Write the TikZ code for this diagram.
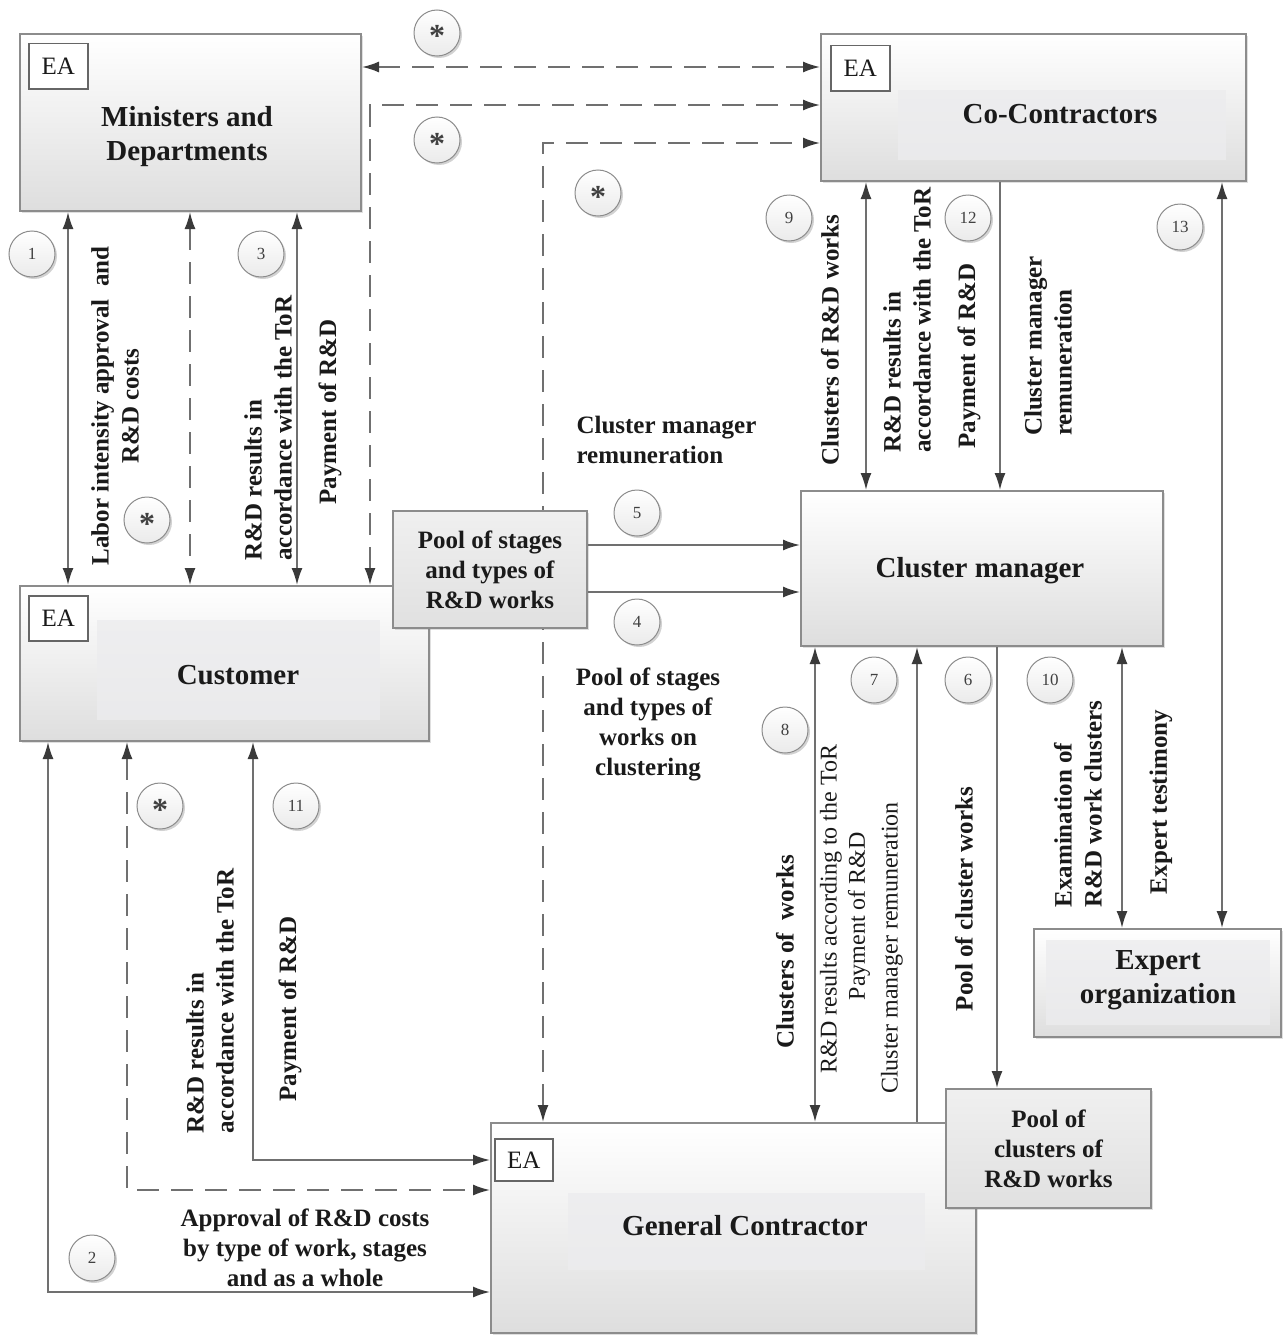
\documentclass[tikz,border=0pt]{standalone}
\usepackage{fontspec}
\setmainfont{Liberation Serif}
\usetikzlibrary{arrows.meta,shadows}
\pgfdeclarelayer{bg}
\pgfsetlayers{bg,main}
\definecolor{linec}{HTML}{707070}
\definecolor{tipc}{HTML}{3A3A3A}
\definecolor{boxc}{HTML}{8C8C8C}
\definecolor{txtc}{HTML}{1A1A1A}
\definecolor{innerc}{HTML}{ECECEE}
\tikzset{
  box/.style={draw=boxc, line width=2pt, top color=white, bottom color=black!13,
    anchor=north west, inner sep=0pt,
    drop shadow={shadow xshift=2pt,shadow yshift=-2pt,opacity=0.25}},
  pool/.style={box, top color=black!6, bottom color=black!12, align=center,
    font=\fontsize{25}{30}\selectfont\bfseries, text=txtc},
  inner/.style={fill=innerc, opacity=0.8},
  ea/.style={draw=black!60, line width=1.5pt, fill=white, minimum width=59pt,
    minimum height=45pt, anchor=north west, inner sep=0pt,
    font=\fontsize{25}{25}\selectfont, text=txtc},
  title/.style={font=\fontsize{29}{34}\selectfont\bfseries, align=center, text=txtc},
  lab/.style={font=\fontsize{25}{30}\selectfont\bfseries, text=txtc},
  vlab/.style={lab, rotate=90},
  rlab/.style={font=\fontsize{24}{28}\selectfont, text=txtc, rotate=90},
  num/.style={circle, draw=black!45, line width=1pt, top color=white,
    bottom color=black!8, minimum size=46pt, inner sep=0pt,
    font=\fontsize{17}{17}\selectfont, text=black!75,
    drop shadow={shadow xshift=2pt,shadow yshift=-2pt,opacity=0.35}},
  star/.style={num, font=\fontsize{32}{32}\selectfont\bfseries, text height=0pt, text depth=0pt},
  sol/.style={draw=linec, line width=1.8pt, >={Latex[length=17pt,width=11pt,color=tipc]}},
  dsh/.style={sol, dash pattern=on 22pt off 12pt}
}
\begin{document}
\begin{tikzpicture}[x=1pt,y=-1pt]
\useasboundingbox (0,0) rectangle (1282,1338);
\begin{pgfonlayer}{bg}\fill[white] (0,0) rectangle (1282,1338);\end{pgfonlayer}

% ---------- boxes ----------
\node[box, minimum width=341pt, minimum height=177pt] (M) at (19,33) {};
\node[box, minimum width=425pt, minimum height=147pt] (CoC) at (820,33) {};
\fill[inner] (898,90) rectangle (1226,160);
\node[box, minimum width=409pt, minimum height=155pt] (Cu) at (19,585) {};
\fill[inner] (97,620) rectangle (380,720);
\node[pool, minimum width=194pt, minimum height=117pt] (P1) at (392,510) {Pool of stages\\and types of\\R\&D works};
\node[box, minimum width=362pt, minimum height=155pt] (CM) at (800,490) {};
\node[box, minimum width=247pt, minimum height=108pt] (EO) at (1033,928) {};
\fill[inner] (1046,940) rectangle (1270,1025);
\node[box, minimum width=485pt, minimum height=210pt] (GC) at (490,1122) {};
\fill[inner] (568,1193) rectangle (925,1270);
\node[pool, minimum width=205pt, minimum height=119pt] (P2) at (945,1088) {Pool of\\clusters of\\R\&D works};

\node[ea] (eaM) at (28,43) {EA};
\node[ea] (eaC) at (830,45) {EA};
\node[ea] (eaCu) at (28,595) {EA};
\node[ea, minimum width=58pt, minimum height=42pt] (eaG) at (494,1138) {EA};

\node[title] (Mt) at (187,137) {Ministers and\\Departments};
\node[title] (Ct) at (1060,114) {Co-Contractors};
\node[title] (Cut) at (238,675) {Customer};
\node[title] (CMt) at (980,571) {Cluster manager};
\node[title] (GCt) at (745,1226) {General Contractor};
\node[title] (EOt) at (1158,980) {Expert\\organization};

% ---------- helper coordinates ----------
\coordinate (x68) at (68,0);
\coordinate (x190) at (190,0);
\coordinate (x297) at (297,0);
\coordinate (k1) at (370,105);
\coordinate (y67) at (0,67);
\coordinate (k3) at (543,143);
\coordinate (y545) at (0,545);
\coordinate (y592) at (0,592);
\coordinate (x866) at (866,0);
\coordinate (x1000) at (1000,0);
\coordinate (x1222) at (1222,0);
\coordinate (x1122) at (1122,0);
\coordinate (x997) at (997,0);
\coordinate (x917) at (917,0);
\coordinate (x815) at (815,0);
\coordinate (k2) at (48,1292);
\coordinate (k4) at (127,1190);
\coordinate (k5) at (253,1160);

% ---------- connectors ----------
\begin{pgfonlayer}{bg}
\draw[dsh,<->] (GC.north -| k3) |- (CoC.west |- k3);
\end{pgfonlayer}
\draw[sol,<->] (M.south -| x68) -- (Cu.north -| x68);
\draw[dsh,<->] (M.south -| x190) -- (Cu.north -| x190);
\draw[sol,<->] (M.south -| x297) -- (Cu.north -| x297);
\draw[dsh,<->] (Cu.north -| k1) |- (CoC.west |- k1);
\draw[dsh,<->] (M.east |- y67) -- (CoC.west |- y67);
\draw[sol,->] (P1.east |- y545) -- (CM.west |- y545);
\draw[sol,->] (P1.east |- y592) -- (CM.west |- y592);
\draw[sol,<->] (CoC.south -| x866) -- (CM.north -| x866);
\draw[sol,->] (CoC.south -| x1000) -- (CM.north -| x1000);
\draw[sol,<->] (CoC.south -| x1222) -- (EO.north -| x1222);
\draw[sol,<->] (CM.south -| x1122) -- (EO.north -| x1122);
\draw[sol,->] (CM.south -| x997) -- (P2.north -| x997);
\draw[sol,->] (GC.north -| x917) -- (CM.south -| x917);
\draw[sol,<->] (GC.north -| x815) -- (CM.south -| x815);
\draw[sol,<->] (Cu.south -| k2) |- (GC.west |- k2);
\draw[dsh,<->] (Cu.south -| k4) |- (GC.west |- k4);
\draw[sol,<->] (Cu.south -| k5) |- (GC.west |- k5);

% ---------- circles ----------
\node[star] (s1) at (437,33) {\raisebox{-14pt}{*}};
\node[star] (s2) at (437,140) {\raisebox{-14pt}{*}};
\node[star] (s3) at (598,193) {\raisebox{-14pt}{*}};
\node[star] (s4) at (147,520) {\raisebox{-14pt}{*}};
\node[star] (s5) at (160,806) {\raisebox{-14pt}{*}};
\node[num] (n1) at (32,254) {1};
\node[num] (n2) at (92,1258) {2};
\node[num] (n3) at (261,254) {3};
\node[num] (n4) at (637,622) {4};
\node[num] (n5) at (637,513) {5};
\node[num] (n6) at (968,680) {6};
\node[num] (n7) at (874,680) {7};
\node[num] (n8) at (785,730) {8};
\node[num] (n9) at (789,218) {9};
\node[num] (n10) at (1050,680) {10};
\node[num] (n11) at (296,806) {11};
\node[num] (n12) at (968,218) {12};
\node[num] (n13) at (1180,227) {13};

% ---------- labels ----------
\node[vlab, align=center] (L1) at (115,406) {Labor intensity approval\ \ and\\R\&D costs};
\node[vlab, align=left] (L2) at (268,428) {R\&D results in\\accordance with the ToR};
\node[vlab] (L3) at (330,412) {Payment of R\&D};
\node[lab, align=left, anchor=west] (L4) at (573,440) {Cluster manager\\remuneration};
\node[lab, align=center] (L5) at (648,724) {Pool of stages\\and types of\\works on\\clustering};
\node[vlab] (L6) at (830,340) {Clusters of R\&D works};
\node[vlab, align=left] (L7) at (907,320) {R\&D results in\\accordance with the ToR};
\node[vlab] (L8) at (969,356) {Payment of R\&D};
\node[vlab, align=left] (L9) at (1048,346) {Cluster manager\\remuneration};
\node[vlab] (L10) at (785,952) {Clusters of\ \ works};
\node[rlab] (L11) at (831,909) {R\&D results according to the ToR};
\node[rlab] (L12) at (859,916) {Payment of R\&D};
\node[rlab] (L13) at (892,948) {Cluster manager remuneration};
\node[vlab] (L14) at (964,899) {Pool of cluster works};
\node[vlab, align=left] (L15) at (1078,804) {Examination of\\R\&D work clusters};
\node[vlab] (L16) at (1161,802) {Expert testimony};
\node[vlab, align=left] (L17) at (210,1001) {R\&D results in\\accordance with the ToR};
\node[vlab] (L18) at (290,1009) {Payment of R\&D};
\node[lab, align=center] (L19) at (305,1248) {Approval of R\&D costs\\by type of work, stages\\and as a whole};
\end{tikzpicture}
\end{document}
